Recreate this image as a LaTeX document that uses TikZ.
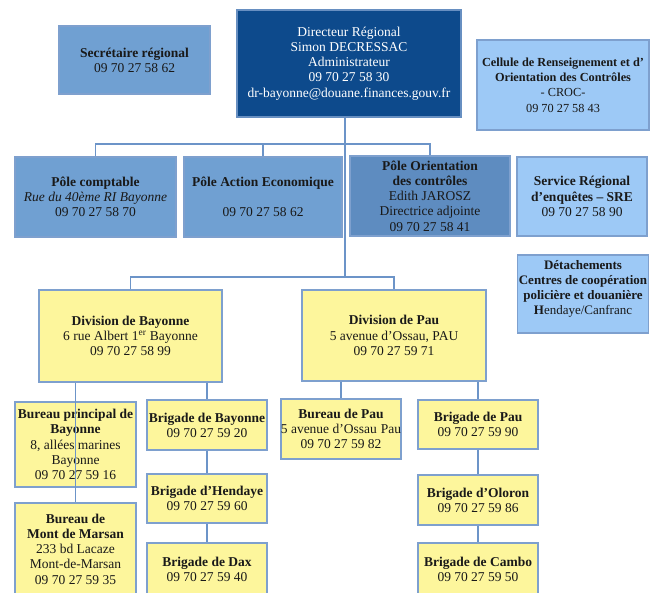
\documentclass[tikz,border=0pt]{standalone}
\usepackage{fontspec}
\setmainfont{Liberation Serif}
\definecolor{dirblue}{RGB}{13,74,140}
\definecolor{midblue}{RGB}{112,160,210}
\definecolor{deepblue}{RGB}{94,140,192}
\definecolor{paleblue}{RGB}{157,201,246}
\definecolor{paleyellow}{RGB}{253,246,156}
\definecolor{edgeblue}{RGB}{126,160,206}
\definecolor{linkblue}{RGB}{108,148,200}
\definecolor{ink}{RGB}{25,25,25}
\tikzset{
  x=1pt, y=-1pt,
  box/.style={draw=edgeblue, line width=1.2pt, inner sep=1pt, align=center,
    font=\fontsize{13.5}{15.2}\selectfont, text=ink},
  dirbox/.style={box, fill=dirblue, draw=edgeblue!80!dirblue, text=white},
  midbox/.style={box, fill=midblue},
  deepbox/.style={box, fill=deepblue},
  palebox/.style={box, fill=paleblue},
  yelbox/.style={box, fill=paleyellow},
  sz/.style n args={2}{minimum width=#1pt, minimum height=#2pt},
  link/.style={draw=linkblue, line width=1.4pt},
}
\begin{document}
\begin{tikzpicture}
\useasboundingbox (0,0) rectangle (655,592);
\clip (0,0) rectangle (655,592);
\fill[white] (0,0) rectangle (655,592);

% --- top level ---
\node[dirbox, sz={224}{107}] (dir) at (349,63.5)
  {Directeur Régional\\Simon DECRESSAC\\Administrateur\\09 70 27 58 30\\dr-bayonne@douane.finances.gouv.fr};
\node[midbox, sz={151}{68}] (sec) at (134.5,60)
  {\textbf{Secrétaire régional}\\09 70 27 58 62};
\node[palebox, sz={172}{90}, font=\fontsize{12.3}{15.3}\selectfont] (croc) at (563,85)
  {\textbf{Cellule de Renseignement et d’}\\\textbf{Orientation des Contrôles}\\- CROC-\\09 70 27 58 43};

% --- poles ---
\node[midbox, sz={161}{80}] (pc) at (95.5,197)
  {\textbf{Pôle comptable}\\\textit{Rue du 40ème RI Bayonne}\\09 70 27 58 70};
\node[midbox, sz={158}{80}] (pa) at (263,197)
  {\textbf{Pôle Action Economique}\\[15pt]09 70 27 58 62};
\node[deepbox, sz={160}{80}] (po) at (430,196)
  {\textbf{Pôle Orientation}\\\textbf{des contrôles}\\Edith JAROSZ\\Directrice adjointe\\09 70 27 58 41};
\node[palebox, sz={130}{79}] (sre) at (582,196.5)
  {\textbf{Service Régional}\\\textbf{d’enquêtes – SRE}\\09 70 27 58 90};
\node[palebox, sz={130}{78}, text depth=13pt, font=\fontsize{13}{15.2}\selectfont] (det) at (583,294)
  {\textbf{Détachements}\\\textbf{Centres de coopération}\\\textbf{policière et douanière}\\\textbf{H}endaye/Canfranc};

% --- divisions ---
\node[yelbox, sz={183}{92}] (divb) at (130.5,336)
  {\textbf{Division de Bayonne}\\6 rue Albert 1\textsuperscript{er} Bayonne\\09 70 27 58 99};
\node[yelbox, sz={184}{91}] (divp) at (394,335.5)
  {\textbf{Division de Pau}\\5 avenue d’Ossau, PAU\\09 70 27 59 71};

% --- Bayonne units ---
\node[yelbox, sz={121}{85}] (bpb) at (75.5,444.5)
  {\textbf{Bureau principal de}\\\textbf{Bayonne}\\8, allées marines\\Bayonne\\09 70 27 59 16};
\node[yelbox, sz={121}{92}] (bmm) at (75.5,549)
  {\textbf{Bureau de}\\\textbf{Mont de Marsan}\\233 bd Lacaze\\Mont-de-Marsan\\09 70 27 59 35};
\node[yelbox, sz={120}{50}] (bgb) at (207,425)
  {\textbf{Brigade de Bayonne}\\09 70 27 59 20};
\node[yelbox, sz={120}{49}] (bgh) at (207,498.5)
  {\textbf{Brigade d’Hendaye}\\09 70 27 59 60};
\node[yelbox, sz={120}{52}] (bgd) at (207,569)
  {\textbf{Brigade de Dax}\\09 70 27 59 40};

% --- Pau units ---
\node[yelbox, sz={120}{60}] (bpau) at (341,429)
  {\textbf{Bureau de Pau}\\\makebox[116pt]{5 avenue d’Ossau\hspace{4pt}Pau}\\09 70 27 59 82};
\node[yelbox, sz={120}{49}] (bgp) at (478,424.5)
  {\textbf{Brigade de Pau}\\09 70 27 59 90};
\node[yelbox, sz={120}{50}] (bgo) at (478,500)
  {\textbf{Brigade d’Oloron}\\09 70 27 59 86};
\node[yelbox, sz={120}{52}] (bgc) at (478,569)
  {\textbf{Brigade de Cambo}\\09 70 27 59 50};

% --- connectors ---
\coordinate (polebus) at (345,144);
\coordinate (divbus) at (345,277);
\draw[link] (dir.south -| divbus) -- (divbus);
\draw[link] (pc.north) |- (polebus) -| (po.north);
\draw[link] (pa.north) -- (pa.north |- polebus);
\draw[link] (divb.north) |- (divbus) -| (divp.north);

\draw[link] (divb.south -| bpb.north) -- (bmm.north);
\draw[link] (divb.south -| bgb.north) -- (bgb.north);
\draw[link] (bgb.south) -- (bgh.north);
\draw[link] (bgh.south) -- (bgd.north);

\draw[link] (divp.south -| bpau.north) -- (bpau.north);
\draw[link] (divp.south -| bgp.north) -- (bgp.north);
\draw[link] (bgp.south) -- (bgo.north);
\draw[link] (bgo.south) -- (bgc.north);
\end{tikzpicture}
\end{document}
